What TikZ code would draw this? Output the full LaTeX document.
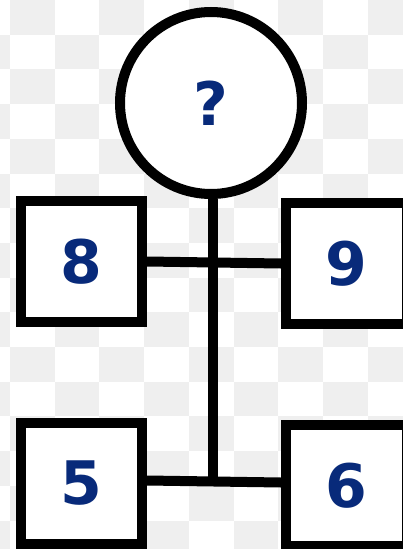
\documentclass[tikz,border=0pt]{standalone}
\usepackage{fontspec}
\setmainfont{DejaVu Sans}
\usepackage{xcolor}
\usepackage{tikz}
\usetikzlibrary{positioning, calc}
\definecolor{numColor}{RGB}{8,42,122}
\definecolor{checkColor}{RGB}{239,239,239}

\begin{document}
\begin{tikzpicture}[
    x=1pt, y=-1pt,
    numbox/.style={rectangle, draw, line width=10pt, fill=white, minimum size=121pt, font=\fontsize{60}{60}\selectfont\bfseries, text=numColor},
    ring/.style={circle, draw, line width=10pt, fill=white, minimum size=182pt, font=\fontsize{60}{60}\selectfont\bfseries, text=numColor},
    link/.style={line width=10pt}
]
    \useasboundingbox (0,0) rectangle (403,549);
    \clip (0,0) rectangle (403,549);

    % Background
    \foreach \j in {0,...,15} {
        \pgfmathsetmacro{\off}{mod(\j,2)}
        \foreach \i in {-1,...,4}
            \fill[checkColor] ({10+44.7*(2*\i+\off)}, {34.7*\j}) rectangle ++(44.7,34.7);
    }

    % Nodes
    \node[ring] (top) at (211,103) {?};
    \node[numbox] (eight) at (81.5,261.5) {8};
    \node[numbox] (nine) at (346.5,263.5) {9};
    \node[numbox] (five) at (81.5,483.5) {5};
    \node[numbox] (six) at (346.5,485.5) {6};
    \coordinate (hub) at (213,481);

    % Links
    \draw[link] (top.south -| hub) -- (hub);
    \draw[link] (eight.east) -- (nine.west);
    \draw[link] ([yshift=3pt]five.east) -- ([yshift=3pt]six.west);
\end{tikzpicture}
\end{document}
